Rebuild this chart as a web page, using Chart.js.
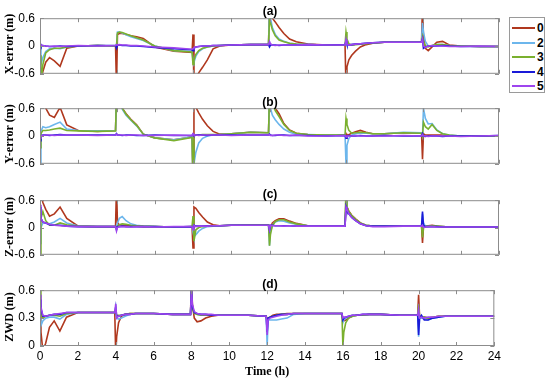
<!DOCTYPE html>
<html>
<head>
<meta charset="utf-8">
<script src="https://cdn.jsdelivr.net/npm/chart.js@4.4.1/dist/chart.umd.min.js"></script>
<style>
  body { margin: 0; background: #fff; }
  #wrap { position: relative; width: 550px; height: 380px; overflow: hidden; background: #fff; }
  canvas { position: absolute; left: 0; }
  .tag { position: absolute; width: 40px; margin-left: -20px; text-align: center;
         font: bold 12px 'Liberation Sans', Arial, sans-serif; color: #000; line-height: 14px; }
  .ytitle { position: absolute; left: 9px; width: 100px; height: 14px; margin: -7px 0 0 -50px;
            text-align: center; line-height: 14px; transform: rotate(-90deg); white-space: nowrap;
            font: bold 12px 'Liberation Serif', 'Times New Roman', serif; color: #000; }
  #legend { position: absolute; left: 509px; top: 17px; width: 34px; height: 74px;
            border: 1px solid #9a9a9a; background: #fff; }
  .item { position: absolute; left: 2px; height: 14px; display: flex; align-items: center;
          font: bold 12px 'Liberation Sans', Arial, sans-serif; }
  .item span.line { display: inline-block; width: 23px; height: 2px; margin-right: 2px; }
</style>
</head>
<body>
<div id="wrap">
  <canvas id="chartA" width="504" height="80" style="top:6px"></canvas>
  <canvas id="chartB" width="504" height="80" style="top:96px"></canvas>
  <canvas id="chartC" width="504" height="79" style="top:188px"></canvas>
  <canvas id="chartD" width="504" height="102" style="top:278px"></canvas>
  <div id="legend"></div>
</div>
<script>
// time axis (hours), denser right after each restart at 0, 4, 8, 12, 16, 20 h
const hours = [
  0, 0.05, 0.15, 0.3, 0.5, 0.75, 1.05, 1.4, 2, 3, 3.95,
  4, 4.05, 4.15, 4.3, 4.5, 4.75, 5.05, 5.4, 6, 7, 7.95,
  8, 8.05, 8.15, 8.3, 8.5, 8.75, 9.05, 9.4, 10, 11, 11.95,
  12, 12.05, 12.15, 12.3, 12.5, 12.75, 13.05, 13.4, 14, 15, 15.95,
  16, 16.05, 16.15, 16.3, 16.5, 16.75, 17.05, 17.4, 18, 19, 19.95,
  20, 20.05, 20.15, 20.3, 20.5, 20.75, 21.05, 21.4, 22, 23, 24
];

const seriesNames = ['0', '2', '3', '4', '5'];
const seriesColors = ['#b0381e', '#6cb6ec', '#7ab02e', '#1a1ad8', '#9e45ee'];
const panelTags = ['(a)', '(b)', '(c)', '(d)'];
const yTitles = ['X-error (m)', 'Y-error (m)', 'Z-error (m)', 'ZWD (m)'];
const errTicks = [-0.6, 0, 0.6];
const zwdTicks = [0, 0.3, 0.6];
const timeTicks = [0, 2, 4, 6, 8, 10, 12, 14, 16, 18, 20, 22, 24];

// (a) X-error
const xErr0 = [
  -0.9, -0.75, -0.55, -0.35, -0.25, -0.32, -0.44, -0.05, 0.0, 0.01, 0.0,
  -0.9, 0.25, 0.27, 0.27, 0.25, 0.22, 0.2, 0.16, -0.02, -0.11, -0.14,
  0.25, -0.9, -0.72, -0.58, -0.46, -0.3, -0.06, 0.0, 0.02, 0.03, 0.03,
  0.9, 0.75, 0.6, 0.52, 0.4, 0.27, 0.15, 0.09, 0.04, 0.02, 0.02,
  -0.9, -0.45, -0.3, -0.2, -0.11, -0.02, 0.03, 0.06, 0.08, 0.08, 0.08,
  0.9, 0.2, -0.05, -0.1, -0.02, 0.08, 0.1, 0.02, 0.0, -0.01, -0.01
];
const xErr2 = [
  0.0, -0.4, -0.25, -0.12, -0.06, -0.05, -0.06, -0.02, 0.0, 0.01, 0.0,
  0.0, 0.3, 0.3, 0.28, 0.24, 0.2, 0.16, 0.12, 0.0, -0.1, -0.12,
  -0.3, -0.35, -0.22, -0.12, -0.06, -0.02, 0.0, 0.01, 0.02, 0.03, 0.03,
  0.9, 0.6, 0.4, 0.25, 0.15, 0.1, 0.06, 0.04, 0.03, 0.02, 0.02,
  0.12, 0.05, 0.02, 0.03, 0.04, 0.05, 0.06, 0.07, 0.08, 0.08, 0.08,
  0.5, 0.3, 0.1, 0.0, 0.01, 0.03, 0.03, 0.01, 0.0, -0.01, -0.01
];
const xErr3 = [
  -0.2, -0.9, -0.4, -0.15, -0.08, -0.05, -0.05, -0.02, 0.0, 0.01, 0.0,
  0.0, 0.28, 0.3, 0.29, 0.26, 0.22, 0.18, 0.13, 0.0, -0.1, -0.13,
  -0.4, -0.3, -0.18, -0.1, -0.05, -0.02, 0.0, 0.01, 0.02, 0.03, 0.03,
  0.6, 0.5, 0.35, 0.22, 0.13, 0.09, 0.06, 0.04, 0.03, 0.02, 0.02,
  0.3, 0.15, 0.05, 0.02, 0.03, 0.04, 0.05, 0.06, 0.08, 0.08, 0.08,
  0.2, 0.1, 0.0, -0.02, 0.01, 0.03, 0.03, 0.01, 0.0, -0.01, -0.01
];
const xErr4 = [
  0.05, 0.0, 0.01, 0.0, -0.01, -0.01, 0.0, -0.01, 0.0, 0.01, 0.01,
  -0.05, 0.01, 0.02, 0.01, 0.01, 0.0, 0.0, -0.01, -0.03, -0.06, -0.08,
  -0.1, -0.05, -0.02, -0.01, 0.0, 0.0, 0.01, 0.01, 0.02, 0.03, 0.03,
  -0.02, 0.02, 0.02, 0.02, 0.01, 0.02, 0.02, 0.02, 0.03, 0.02, 0.03,
  0.1, 0.03, 0.02, 0.03, 0.04, 0.05, 0.06, 0.07, 0.08, 0.08, 0.08,
  0.15, -0.05, -0.02, 0.0, 0.0, 0.0, 0.01, 0.0, -0.01, -0.01, -0.01
];
const xErr5 = [
  0.04, 0.02, 0.01, 0.0, -0.01, 0.0, -0.01, 0.0, 0.01, 0.0, 0.01,
  0.03, 0.02, 0.03, 0.02, 0.02, 0.01, 0.01, 0.0, -0.02, -0.04, -0.07,
  -0.06, -0.03, -0.02, -0.01, 0.0, 0.0, 0.01, 0.01, 0.02, 0.03, 0.03,
  0.1, 0.05, 0.02, 0.01, 0.02, 0.02, 0.02, 0.02, 0.03, 0.02, 0.02,
  0.14, 0.03, 0.02, 0.03, 0.04, 0.05, 0.06, 0.07, 0.08, 0.08, 0.08,
  0.15, 0.0, -0.03, 0.0, 0.01, 0.0, 0.0, -0.01, -0.01, 0.0, -0.01
];

// (b) Y-error
const yErr0 = [
  0.9, 0.9, 0.75, 0.6, 0.45, 0.4, 0.62, 0.24, 0.12, 0.1, 0.12,
  0.9, 0.9, 0.75, 0.6, 0.48, 0.36, 0.24, 0.04, -0.04, -0.08, -0.02,
  -0.9, 0.9, 0.62, 0.5, 0.36, 0.22, 0.1, 0.04, 0.05, 0.08, 0.07,
  0.9, 0.9, 0.8, 0.6, 0.48, 0.27, 0.13, 0.06, 0.03, 0.02, 0.02,
  0.05, 0.0, 0.03, 0.06, 0.09, 0.12, 0.08, 0.05, 0.05, 0.07, 0.06,
  -0.5, 0.05, 0.02, 0.02, 0.02, 0.02, 0.02, 0.01, 0.0, 0.0, 0.0
];
const yErr2 = [
  -0.9, 0.1, 0.2, 0.18, 0.2, 0.25, 0.3, 0.15, 0.12, 0.11, 0.12,
  0.9, 0.9, 0.75, 0.58, 0.45, 0.34, 0.22, 0.04, -0.04, -0.08, -0.02,
  -0.9, -0.6, -0.35, -0.15, -0.05, 0.0, 0.02, 0.03, 0.05, 0.08, 0.07,
  0.9, 0.6, 0.45, 0.35, 0.25, 0.15, 0.08, 0.04, 0.03, 0.02, 0.02,
  -0.6, -0.2, -0.05, 0.02, 0.05, 0.06, 0.06, 0.05, 0.05, 0.08, 0.07,
  0.0, 0.6, 0.38, 0.26, 0.27, 0.13, 0.05, 0.02, 0.0, 0.0, 0.0
];
const yErr3 = [
  -0.25, 0.05, 0.12, 0.12, 0.13, 0.15, 0.17, 0.12, 0.11, 0.1, 0.11,
  0.9, 0.9, 0.78, 0.6, 0.47, 0.35, 0.23, 0.04, -0.04, -0.1, -0.03,
  -0.9, 0.0, 0.02, 0.02, 0.03, 0.03, 0.03, 0.03, 0.05, 0.08, 0.07,
  0.9, 0.9, 0.7, 0.55, 0.42, 0.25, 0.12, 0.06, 0.03, 0.02, 0.02,
  0.38, 0.25, 0.12, 0.06, 0.07, 0.08, 0.07, 0.05, 0.05, 0.07, 0.06,
  0.0, 0.3, 0.2, 0.15, 0.25, 0.12, 0.05, 0.02, 0.0, 0.0, 0.0
];
const yErr4 = [
  -0.1, 0.0, 0.02, 0.02, 0.01, 0.02, 0.03, 0.02, 0.02, 0.02, 0.02,
  0.05, 0.02, 0.02, 0.01, 0.02, 0.02, 0.01, 0.01, 0.02, 0.01, 0.01,
  0.04, 0.01, 0.02, 0.02, 0.02, 0.01, 0.02, 0.02, 0.02, 0.02, 0.02,
  0.04, 0.02, 0.01, 0.01, 0.02, 0.02, 0.01, 0.01, 0.01, 0.0, 0.01,
  -0.05, 0.0, 0.01, 0.0, 0.0, 0.01, 0.0, 0.0, 0.01, 0.0, 0.0,
  0.05, 0.0, -0.01, 0.0, 0.0, 0.0, -0.01, 0.0, 0.0, 0.0, 0.01
];
const yErr5 = [
  -0.05, 0.0, 0.01, 0.02, 0.02, 0.01, 0.02, 0.02, 0.02, 0.01, 0.02,
  0.04, 0.02, 0.02, 0.02, 0.01, 0.02, 0.02, 0.01, 0.01, 0.02, 0.01,
  0.05, 0.02, 0.02, 0.01, 0.02, 0.02, 0.02, 0.02, 0.01, 0.02, 0.02,
  0.03, 0.01, 0.01, 0.02, 0.02, 0.01, 0.01, 0.02, 0.0, 0.0, 0.01,
  -0.02, 0.0, 0.0, 0.0, 0.01, 0.0, 0.0, 0.0, 0.0, 0.01, 0.0,
  0.03, 0.0, 0.0, -0.01, 0.0, 0.0, 0.0, 0.0, -0.01, 0.0, 0.01
];

// (c) Z-error
const zErr0 = [
  0.9, 0.75, 0.55, 0.4, 0.25, 0.3, 0.45, 0.2, 0.03, 0.02, 0.02,
  0.9, 0.1, 0.06, 0.05, 0.05, 0.04, 0.03, 0.02, 0.02, 0.01, 0.02,
  -0.45, 0.45, 0.42, 0.33, 0.23, 0.12, 0.06, 0.04, 0.05, 0.06, 0.06,
  -0.2, 0.0, 0.1, 0.15, 0.19, 0.19, 0.14, 0.09, 0.04, 0.03, 0.03,
  0.6, 0.45, 0.36, 0.27, 0.19, 0.1, 0.05, 0.03, 0.03, 0.03, 0.03,
  -0.34, 0.0, 0.02, 0.04, 0.05, 0.03, 0.02, 0.01, 0.01, 0.01, 0.01
];
const zErr2 = [
  -0.35, 0.0, 0.1, 0.1, 0.08, 0.12, 0.2, 0.1, 0.03, 0.02, 0.02,
  0.0, 0.1, 0.2, 0.24, 0.15, 0.08, 0.05, 0.03, 0.02, 0.01, 0.02,
  -0.1, -0.2, -0.16, -0.08, -0.02, 0.02, 0.03, 0.04, 0.05, 0.06, 0.06,
  -0.4, -0.1, 0.05, 0.12, 0.15, 0.14, 0.1, 0.07, 0.04, 0.03, 0.03,
  0.6, 0.42, 0.33, 0.25, 0.17, 0.09, 0.05, 0.03, 0.03, 0.03, 0.03,
  0.3, 0.1, 0.03, 0.02, 0.03, 0.02, 0.02, 0.01, 0.01, 0.01, 0.01
];
const zErr3 = [
  -0.9, 0.2, 0.35, 0.15, 0.05, 0.05, 0.1, 0.06, 0.03, 0.02, 0.02,
  0.0, 0.03, 0.06, 0.08, 0.07, 0.05, 0.04, 0.03, 0.02, 0.01, 0.02,
  0.25, -0.3, -0.05, 0.0, 0.02, 0.03, 0.04, 0.04, 0.05, 0.06, 0.06,
  -0.4, -0.15, 0.04, 0.13, 0.17, 0.17, 0.12, 0.08, 0.04, 0.03, 0.03,
  0.9, 0.45, 0.35, 0.26, 0.18, 0.1, 0.05, 0.03, 0.03, 0.03, 0.03,
  -0.22, 0.0, 0.02, 0.03, 0.04, 0.03, 0.02, 0.01, 0.01, 0.01, 0.01
];
const zErr4 = [
  0.45, 0.2, 0.12, 0.1, 0.06, 0.05, 0.05, 0.03, 0.02, 0.02, 0.02,
  -0.05, 0.02, 0.02, 0.03, 0.02, 0.02, 0.02, 0.02, 0.02, 0.01, 0.02,
  0.0, 0.05, 0.03, 0.03, 0.03, 0.04, 0.04, 0.04, 0.05, 0.05, 0.05,
  -0.05, 0.05, 0.05, 0.04, 0.04, 0.04, 0.04, 0.03, 0.03, 0.03, 0.03,
  0.45, 0.38, 0.3, 0.22, 0.15, 0.08, 0.04, 0.03, 0.03, 0.03, 0.03,
  0.35, 0.05, 0.02, 0.02, 0.02, 0.02, 0.01, 0.01, 0.01, 0.01, 0.01
];
const zErr5 = [
  0.5, 0.2, 0.12, 0.1, 0.07, 0.05, 0.04, 0.03, 0.02, 0.02, 0.02,
  -0.08, 0.0, 0.02, 0.02, 0.02, 0.01, 0.02, 0.02, 0.01, 0.02, 0.02,
  -0.05, 0.05, 0.02, 0.03, 0.03, 0.03, 0.04, 0.04, 0.05, 0.05, 0.05,
  -0.05, 0.05, 0.04, 0.04, 0.04, 0.03, 0.04, 0.03, 0.03, 0.03, 0.03,
  0.45, 0.4, 0.3, 0.22, 0.15, 0.08, 0.04, 0.02, 0.02, 0.03, 0.03,
  0.05, 0.0, 0.01, 0.02, 0.02, 0.01, 0.01, 0.01, 0.01, 0.01, 0.01
];

// (d) ZWD
const zwd0 = [
  0.45, 0.15, -0.05, 0.03, 0.2, 0.27, 0.16, 0.31, 0.36, 0.36, 0.36,
  -0.1, 0.1, 0.25, 0.32, 0.34, 0.35, 0.35, 0.35, 0.35, 0.34, 0.34,
  0.7, 0.45, 0.3, 0.26, 0.27, 0.3, 0.32, 0.33, 0.33, 0.33, 0.32,
  0.28, 0.3, 0.31, 0.33, 0.34, 0.34, 0.35, 0.35, 0.35, 0.35, 0.35,
  0.28, 0.27, 0.28, 0.3, 0.32, 0.33, 0.33, 0.34, 0.34, 0.33, 0.33,
  0.55, 0.32, 0.3, 0.31, 0.3, 0.31, 0.32, 0.32, 0.32, 0.32, 0.32
];
const zwd2 = [
  0.3, 0.22, 0.27, 0.3, 0.31, 0.31, 0.29, 0.34, 0.36, 0.36, 0.36,
  0.35, 0.3, 0.29, 0.3, 0.32, 0.34, 0.35, 0.35, 0.35, 0.34, 0.34,
  0.6, 0.42, 0.36, 0.34, 0.33, 0.33, 0.33, 0.33, 0.33, 0.33, 0.32,
  0.0, 0.28, 0.28, 0.28, 0.28, 0.29, 0.3, 0.34, 0.35, 0.35, 0.35,
  0.25, 0.28, 0.3, 0.31, 0.32, 0.33, 0.33, 0.34, 0.34, 0.33, 0.33,
  0.1, 0.3, 0.3, 0.29, 0.28, 0.3, 0.31, 0.32, 0.32, 0.32, 0.32
];
const zwd3 = [
  0.6, 0.35, 0.3, 0.32, 0.33, 0.33, 0.32, 0.35, 0.36, 0.36, 0.36,
  0.36, 0.33, 0.33, 0.33, 0.34, 0.35, 0.35, 0.35, 0.35, 0.34, 0.34,
  0.6, 0.4, 0.35, 0.34, 0.33, 0.33, 0.33, 0.33, 0.33, 0.33, 0.32,
  0.25, 0.3, 0.31, 0.32, 0.33, 0.34, 0.34, 0.35, 0.35, 0.35, 0.35,
  0.0, 0.15, 0.25, 0.3, 0.32, 0.33, 0.33, 0.34, 0.34, 0.33, 0.33,
  0.45, 0.32, 0.31, 0.31, 0.3, 0.31, 0.32, 0.32, 0.32, 0.32, 0.32
];
const zwd4 = [
  0.5, 0.4, 0.32, 0.32, 0.33, 0.34, 0.34, 0.36, 0.36, 0.36, 0.36,
  0.42, 0.32, 0.32, 0.33, 0.34, 0.34, 0.35, 0.35, 0.35, 0.34, 0.34,
  0.6, 0.42, 0.36, 0.35, 0.34, 0.34, 0.33, 0.33, 0.33, 0.33, 0.32,
  0.15, 0.3, 0.31, 0.32, 0.33, 0.34, 0.34, 0.35, 0.35, 0.35, 0.35,
  0.28, 0.3, 0.31, 0.32, 0.33, 0.33, 0.34, 0.34, 0.34, 0.33, 0.33,
  0.12, 0.3, 0.33, 0.28, 0.28, 0.3, 0.31, 0.32, 0.32, 0.32, 0.32
];
const zwd5 = [
  0.55, 0.42, 0.33, 0.32, 0.33, 0.34, 0.35, 0.36, 0.36, 0.36, 0.36,
  0.45, 0.3, 0.32, 0.33, 0.34, 0.34, 0.35, 0.35, 0.35, 0.34, 0.34,
  0.6, 0.45, 0.37, 0.35, 0.34, 0.34, 0.34, 0.33, 0.33, 0.33, 0.32,
  0.12, 0.28, 0.3, 0.31, 0.32, 0.33, 0.34, 0.35, 0.35, 0.35, 0.35,
  0.3, 0.31, 0.31, 0.32, 0.33, 0.33, 0.34, 0.34, 0.34, 0.33, 0.33,
  0.4, 0.3, 0.31, 0.3, 0.31, 0.31, 0.32, 0.32, 0.32, 0.32, 0.32
];

const panels = [
  { id: 'chartA', rows: [xErr0, xErr2, xErr3, xErr4, xErr5], min: -0.6, max: 0.6, ticks: errTicks },
  { id: 'chartB', rows: [yErr0, yErr2, yErr3, yErr4, yErr5], min: -0.6, max: 0.6, ticks: errTicks },
  { id: 'chartC', rows: [zErr0, zErr2, zErr3, zErr4, zErr5], min: -0.6, max: 0.6, ticks: errTicks },
  { id: 'chartD', rows: [zwd0, zwd2, zwd3, zwd4, zwd5], min: 0, max: 0.6, ticks: zwdTicks }
];
const tagTops = [4, 95, 187, 277];
const yTitleMids = [44, 134, 227, 317];

// matlab-style box with inward ticks on all four sides
const boxFrame = {
  id: 'boxFrame',
  afterDraw(chart) {
    const { ctx, chartArea: a, scales } = chart;
    const x = scales.x, y = scales.y;
    ctx.save();
    ctx.strokeStyle = '#8c8c8c';
    ctx.lineWidth = 1;
    ctx.strokeRect(a.left + 0.5, a.top + 0.5, a.width - 1, a.height - 1);
    ctx.beginPath();
    timeTicks.forEach(v => {
      const px = Math.round(x.getPixelForValue(v)) + 0.5;
      ctx.moveTo(px, a.top); ctx.lineTo(px, a.top + 4);
      ctx.moveTo(px, a.bottom); ctx.lineTo(px, a.bottom - 4);
    });
    y.ticks.forEach(t => {
      const py = Math.round(y.getPixelForValue(t.value)) + 0.5;
      ctx.moveTo(a.left, py); ctx.lineTo(a.left + 4, py);
      ctx.moveTo(a.right, py); ctx.lineTo(a.right - 4, py);
    });
    ctx.stroke();
    ctx.restore();
  }
};

const wrap = document.getElementById('wrap');

panels.forEach((p, k) => {
  const last = k === panels.length - 1;
  new Chart(document.getElementById(p.id), {
    type: 'line',
    data: {
      labels: hours,
      datasets: p.rows.map((vals, i) => ({
        label: seriesNames[i],
        data: vals.map((v, j) => ({ x: hours[j], y: v })),
        borderColor: seriesColors[i],
        borderWidth: 1.6,
        pointRadius: 0,
        tension: 0,
        order: 4 - i
      }))
    },
    options: {
      responsive: false,
      animation: false,
      devicePixelRatio: 1,
      layout: { padding: { top: 12, bottom: last ? 0 : 12, left: 0, right: 5 } },
      plugins: { legend: { display: false }, tooltip: { enabled: false } },
      scales: {
        x: {
          type: 'linear', min: 0, max: 24,
          display: last,
          afterBuildTicks: s => { s.ticks = timeTicks.map(v => ({ value: v })); },
          afterFit: s => { s.height = last ? 34 : 0; },
          grid: { display: false, drawTicks: false },
          border: { display: false },
          ticks: { color: '#000', padding: 3, maxRotation: 0, font: { family: 'Liberation Sans', size: 12 } },
          title: { display: true, text: 'Time (h)', color: '#000', padding: { top: 0, bottom: 1 },
                   font: { family: 'Liberation Serif', weight: 'bold', size: 12 } }
        },
        y: {
          min: p.min, max: p.max,
          afterBuildTicks: s => { s.ticks = p.ticks.map(v => ({ value: v })); },
          afterFit: s => { s.width = 40; },
          grid: { display: false, drawTicks: false },
          border: { display: false },
          ticks: { color: '#000', padding: 5, callback: v => v === 0 ? '0' : v.toFixed(1),
                   font: { family: 'Liberation Sans', size: 12 } }
        }
      }
    },
    plugins: [boxFrame]
  });

  const tag = document.createElement('div');
  tag.className = 'tag';
  tag.style.left = '270px';
  tag.style.top = tagTops[k] + 'px';
  tag.textContent = panelTags[k];
  wrap.appendChild(tag);

  const yt = document.createElement('div');
  yt.className = 'ytitle';
  yt.style.top = yTitleMids[k] + 'px';
  yt.textContent = yTitles[k];
  wrap.appendChild(yt);
});

// legend box on the right
const legend = document.getElementById('legend');
seriesNames.forEach((name, i) => {
  const item = document.createElement('div');
  item.className = 'item';
  item.style.top = (3 + i * 14.6) + 'px';
  item.innerHTML = '<span class="line" style="background:' + seriesColors[i] + '"></span>' + name;
  legend.appendChild(item);
});
</script>
</body>
</html>
